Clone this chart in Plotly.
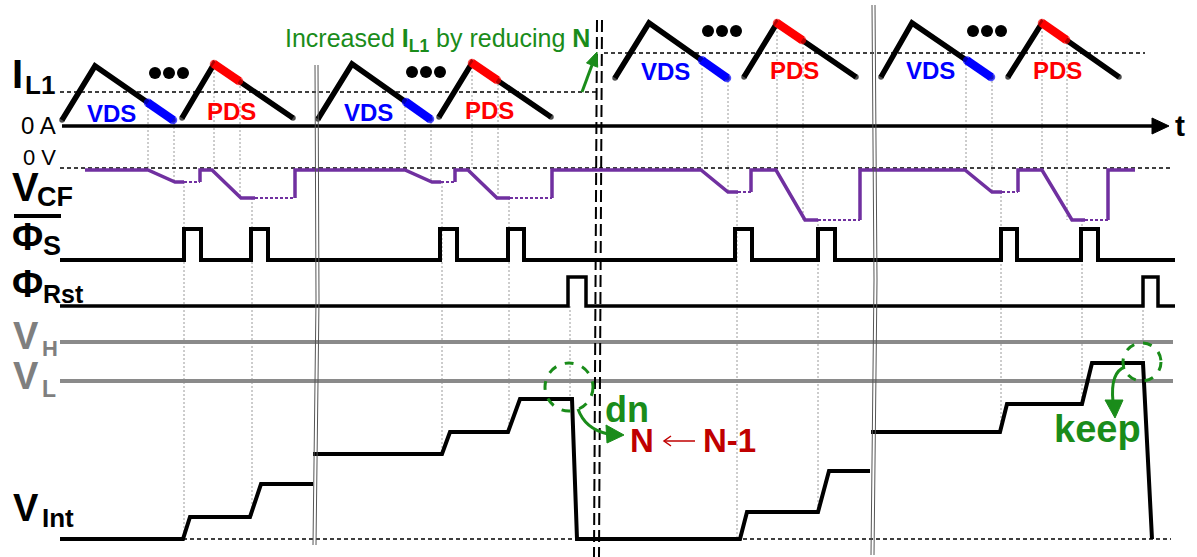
import math
import plotly.graph_objects as go

W, H = 1197, 557
SANS = "Liberation Sans, Arial, sans-serif"
PURPLE = "#7030a0"
GREEN = "#1a8c1a"
DKRED = "#c00000"
GRAY = "#8a8a8a"

# ---------------- waveform data (time axis, level axis points downward) ----------------
# inductor current I_L1: one triangle per switching cycle
tri_t0 = [62, 182, 318, 439, 615, 744, 881, 1008]
tri_tpk = [95, 214, 352, 472, 649, 777, 912, 1042]
tri_t1 = [173, 293, 430, 551, 727, 856, 991, 1119]
tri_base = [120, 118, 119, 117, 78, 77, 77, 77]
tri_peak = [66, 64, 64, 63, 23, 23, 23, 23]
tri_mode = ["VDS", "PDS", "VDS", "PDS", "VDS", "PDS", "VDS", "PDS"]
# sensed interval on the falling edge of each triangle
sense_t0 = [148, 214, 406, 472, 702, 777, 967, 1042]
sense_t1 = [173, 239, 430, 497, 727, 802, 991, 1066]
# "..." between the two shown cycles of each group
dots_t = [169, 426, 722, 987]
dots_lvl = [73, 72, 31, 31]
# peak-current reference levels (before / after reducing N)
iref_lvl = [92, 53]
iref_span = [(60, 596), (604, 1145)]

# flying capacitor voltage V_CF, one conversion per cycle
vcf_top = 170
vcf_start, vcf_stop = 85, 1135
vcf_fall_t0 = [148, 212, 405, 468, 701, 776, 965, 1042]
vcf_fall_t1 = [175, 241, 432, 497, 728, 805, 992, 1072]
vcf_low = [182, 198, 182, 198, 192, 220, 192, 220]
vcf_hold_t = [184, 255, 441, 510, 738, 818, 1002, 1085]
vcf_reset_t = [200, 295, 455, 552, 751, 860, 1018, 1108]

# sampling clock Phi_S (active low shown with overbar) and reset Phi_Rst
phis_low, phis_high = 260, 229
phis_on = [184, 251, 440, 508, 735, 818, 1001, 1081]
phis_off = [201, 268, 457, 524, 752, 835, 1017, 1098]
rst_low, rst_high = 306, 277
rst_on = [568, 1143]
rst_off = [586, 1158]
sig_span = (60, 1175)

# comparator thresholds
vh_lvl, vl_lvl = 342, 381

# integrator output V_Int (None = time break)
vint_t = [60, 183, 190, 250, 261, 313, None,
          313, 442, 450, 508, 520, 572, 577, 740, 747, 818, 829, 870, None,
          871, 1000, 1007, 1082, 1092, 1143, 1152]
vint_v = [539, 539, 517, 517, 484, 484, None,
          454, 454, 432, 432, 399, 399, 539, 539, 512, 512, 471, 471, None,
          432, 432, 404, 404, 363, 363, 539]
vint_zero = 539

# dotted timing guides: (time, from level, to level)
guides = [
    (148, 102, 169), (174, 119, 182), (184, 182, 539), (214, 64, 169), (240, 82, 198), (252, 198, 517),
    (405, 102, 169), (431, 118, 182), (442, 182, 454), (472, 63, 168), (498, 80, 198), (509, 198, 432),
    (570, 306, 399),
    (702, 60, 170), (728, 77, 192), (737, 192, 539), (777, 23, 169), (803, 39, 220), (818, 220, 512),
    (966, 60, 171), (992, 77, 192), (1001, 192, 432), (1042, 23, 170), (1067, 39, 220), (1082, 220, 404),
    (1143, 306, 363),
]

fig = go.Figure()


def line(xs, ys, color="black", width=4, dash=None, ends=False):
    mode = "lines+markers" if ends else "lines"
    fig.add_trace(go.Scatter(
        x=xs, y=ys, mode=mode, hoverinfo="skip", connectgaps=False,
        line=dict(color=color, width=width, dash=dash),
        marker=dict(size=[width if i in (0, len(xs) - 1) else 0 for i in range(len(xs))],
                    color=color, line=dict(width=0)) if ends else None,
    ))


def arrow_head(x0, y0, x1, y1, color, length=13, half=6):
    """Filled triangular head at (x1, y1) pointing away from (x0, y0)."""
    dx, dy = x1 - x0, y1 - y0
    n = math.hypot(dx, dy)
    ux, uy = dx / n, dy / n
    bx, by = x1 - ux * length, y1 - uy * length
    px, py = -uy * half, ux * half
    fig.add_shape(type="path",
                  path=f"M {x1} {y1} L {bx + px:.1f} {by + py:.1f} L {bx - px:.1f} {by - py:.1f} Z",
                  fillcolor=color, line=dict(color=color, width=1))


# dotted guides first so that everything else sits on top
for t, a, b in guides:
    line([t, t], [a, b], color="#9a9a9a", width=1, dash="2px,2px")

# reference dashed lines
for lvl, (a, b) in zip(iref_lvl, iref_span):
    line([a, b], [lvl, lvl], width=1.5, dash="4px,3px")
line([60, 1171], [168, 168], width=1.5, dash="4px,3px")
line([183, 1171], [vint_zero, vint_zero], width=1.5, dash="4px,3px")

# time axis (0 A)
line([62, 1156], [126, 126], width=3.5)
arrow_head(1150, 126, 1169, 126, "black", length=17, half=8)

# inductor current triangles
for i in range(len(tri_t0)):
    line([tri_t0[i], tri_tpk[i], tri_t1[i]], [tri_base[i], tri_peak[i], tri_base[i]],
         width=5.5, ends=True)
    frac = lambda t: (t - tri_tpk[i]) / (tri_t1[i] - tri_tpk[i])
    ya = tri_peak[i] + frac(sense_t0[i]) * (tri_base[i] - tri_peak[i])
    yb = tri_peak[i] + frac(sense_t1[i]) * (tri_base[i] - tri_peak[i])
    col = "#0000ff" if tri_mode[i] == "VDS" else "#ff0000"
    line([sense_t0[i], sense_t1[i]], [ya, yb], color=col, width=8.5, ends=True)
    fig.add_annotation(x=(tri_t0[i] + tri_t1[i]) / 2 - 6, y=tri_base[i] - 7, text=f"<b>{tri_mode[i]}</b>",
                       showarrow=False, font=dict(family=SANS, size=24, color=col))

for t, lvl in zip(dots_t, dots_lvl):
    fig.add_trace(go.Scatter(x=[t - 14, t, t + 14], y=[lvl] * 3, mode="markers", hoverinfo="skip",
                             marker=dict(size=12, color="black")))

# V_CF
prev = vcf_start
for i in range(len(vcf_fall_t0)):
    xs = [prev, vcf_fall_t0[i], vcf_fall_t1[i], vcf_hold_t[i]]
    ys = [vcf_top, vcf_top, vcf_low[i], vcf_low[i]]
    if i > 0:
        xs = [prev] + xs
        ys = [vcf_low[i - 1]] + ys
    line(xs, ys, color=PURPLE, width=3.5)
    line([vcf_hold_t[i], vcf_reset_t[i]], [vcf_low[i], vcf_low[i]], color=PURPLE, width=2, dash="3px,2px")
    prev = vcf_reset_t[i]
line([prev, prev, vcf_stop], [vcf_low[-1], vcf_top, vcf_top], color=PURPLE, width=3.5)

# Phi_S
px, py = [sig_span[0]], [phis_low]
for a, b in zip(phis_on, phis_off):
    px += [a, a, b, b]
    py += [phis_low, phis_high, phis_high, phis_low]
px.append(sig_span[1]); py.append(phis_low)
line(px, py, width=4)

# Phi_Rst
rx, ry = [sig_span[0]], [rst_low]
for a, b in zip(rst_on, rst_off):
    rx += [a, a, b, b]
    ry += [rst_low, rst_high, rst_high, rst_low]
rx.append(sig_span[1]); ry.append(rst_low)
line(rx, ry, width=3.5)

# thresholds
line([60, 1173], [vh_lvl, vh_lvl], color=GRAY, width=4)
line([60, 1173], [vl_lvl, vl_lvl], color=GRAY, width=4)

# V_Int
line(vint_t, vint_v, width=4)

# time-break marks
for dx in (0, 3):
    line([315 + dx, 316 + dx, 313 + dx], [65, 300, 545], color="#555555", width=1)
    line([872 + dx, 874 + dx, 871 + dx], [5, 280, 555], color="#555555", width=1)
for dx in (0, 5):
    line([597 + dx, 594 + dx], [20, 557], width=2, dash="12px,5px")

# comparator decision markers
fig.add_shape(type="circle", x0=545, x1=593, y0=363, y1=411, line=dict(color=GREEN, width=3, dash="dash"))
fig.add_shape(type="circle", x0=1123, x1=1161, y0=343, y1=381, line=dict(color=GREEN, width=3, dash="dash"))
fig.add_shape(type="path", path="M 578 409 Q 585 429 608 434", line=dict(color=GREEN, width=3))
fig.add_shape(type="path", path="M 606 425 L 624 435 L 607 443 Z", fillcolor=GREEN, line=dict(color=GREEN, width=1))
fig.add_shape(type="path", path="M 1125 367 Q 1110 372 1113 402", line=dict(color=GREEN, width=3))
fig.add_shape(type="path", path="M 1105 400 L 1123 400 L 1115 418 Z", fillcolor=GREEN, line=dict(color=GREEN, width=1))

# "Increased I_L1" arrow
fig.add_shape(type="line", x0=582, y0=92, x1=592, y1=65, line=dict(color=GREEN, width=3))
arrow_head(582, 92, 597, 52, GREEN, length=14, half=6)

# "N <- N-1" arrow
fig.add_shape(type="line", x0=664, y0=441, x1=695, y1=441, line=dict(color=DKRED, width=1.5))
fig.add_shape(type="path", path="M 671 436 L 664 441 L 671 446", line=dict(color=DKRED, width=1.5))

# ---------------- text ----------------
def txt(x, y, s, size, color="black", family=SANS, xanchor="left"):
    fig.add_annotation(x=x, y=y, text=s, showarrow=False, xanchor=xanchor, yanchor="middle",
                       font=dict(family=family, size=size, color=color))

txt(10, 74, "<b>I</b>", 40)
txt(23, 85, "<b>L1</b>", 26)
txt(58, 125, "0 A", 24, xanchor="right")
txt(58, 157, "0 V", 22, xanchor="right")
txt(10, 187, "<b>V</b>", 40)
txt(35, 197, "<b>CF</b>", 27)
line([14, 61], [216, 216], width=4)
txt(10, 237, "<b>Φ</b>", 38)
txt(41, 246, "<b>S</b>", 27)
txt(10, 284, "<b>Φ</b>", 38)
txt(41, 294, "<b>Rst</b>", 25)
txt(11, 336, "<b>V</b>", 38, color="#7f7f7f")
txt(40, 348, "<b>H</b>", 22, color="#7f7f7f")
txt(11, 376, "<b>V</b>", 38, color="#7f7f7f")
txt(40, 389, "<b>L</b>", 23, color="#7f7f7f")
txt(11, 508, "<b>V</b>", 38)
txt(40, 518, "<b>Int</b>", 26)
txt(1180, 125, "<b>t</b>", 30, xanchor="center")

txt(437, 40, "Increased <b>I<sub>L1</sub></b> by reducing <b>N</b>", 25, color=GREEN, xanchor="center")
txt(627, 409, "<b>dn</b>", 36, color=GREEN, xanchor="center")
txt(642, 440, "<b>N</b>", 33, color=DKRED, xanchor="center")
txt(729, 440, "<b>N-1</b>", 33, color=DKRED, xanchor="center")
txt(1097, 429, "<b>keep</b>", 38, color=GREEN, xanchor="center")

fig.update_layout(
    width=W, height=H, margin=dict(l=0, r=0, t=0, b=0),
    paper_bgcolor="white", plot_bgcolor="white", showlegend=False,
    xaxis=dict(range=[0, W], visible=False, fixedrange=True),
    yaxis=dict(range=[H, 0], visible=False, fixedrange=True),
)
fig.write_html("out.html")
